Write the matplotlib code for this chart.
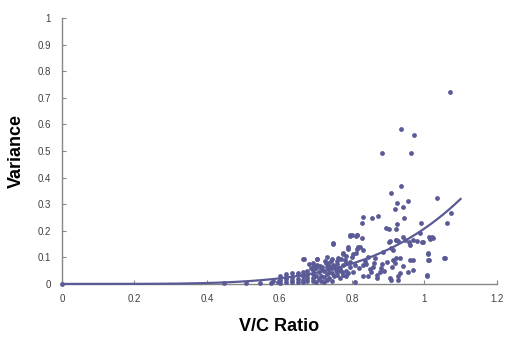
import matplotlib
matplotlib.use("Agg")
import matplotlib.pyplot as plt
import numpy as np

plt.rcParams['font.family'] = ['Liberation Sans', 'DejaVu Sans']

vc_ratio = [
    0.000, 0.447, 0.508, 0.546, 0.577, 0.582, 0.596,
    0.601, 0.601, 0.601, 0.618, 0.618, 0.618, 0.618,
    0.634, 0.634, 0.634, 0.634, 0.652, 0.652, 0.652, 0.652,
    0.666, 0.666, 0.666, 0.666, 0.677, 0.677, 0.677, 0.677,
    0.692, 0.692, 0.692, 0.692, 0.700, 0.700, 0.700, 0.708, 0.708,
    0.715, 0.715, 0.715, 0.722, 0.722, 0.722, 0.730, 0.730, 0.730,
    0.738, 0.738, 0.738, 0.745, 0.745, 0.745, 0.752, 0.752, 0.760,
    0.760, 0.768, 0.768, 0.775, 0.775, 0.783, 0.783, 0.790, 0.795,
    0.668, 0.692, 0.703, 0.749, 0.796, 0.813, 0.790, 0.818, 0.811,
    0.776, 0.732, 0.781, 0.666, 0.703, 0.682,
    0.794, 0.811, 0.829, 0.749, 0.905, 0.921, 0.822, 0.831, 0.813,
    0.790, 0.885, 0.914, 0.776, 0.804, 0.845, 0.762, 0.863, 0.896,
    0.923, 0.749, 0.794, 0.831, 0.859, 0.882, 0.910, 0.767, 0.804,
    0.854, 0.877, 0.758, 0.785, 0.831, 0.868, 0.905, 0.808, 0.928,
    0.909, 0.923, 0.941, 0.946, 0.969, 0.988, 0.997, 1.013, 1.023,
    1.015, 0.960, 0.914, 0.932, 0.960, 0.968, 1.011, 1.013, 1.054,
    0.941, 0.919, 0.969, 0.955, 0.932, 0.928, 1.006, 0.909,
    0.830, 0.828, 0.855, 0.872, 0.943, 0.924, 0.921, 0.990, 1.062,
    1.073, 0.800, 0.814, 0.902, 0.927, 0.957, 0.979, 0.993, 1.021,
    1.010, 1.010, 1.057, 1.007,
    1.070, 0.935, 0.971, 0.883, 0.963, 0.935, 0.908, 0.954, 0.924,
    1.034, 0.941, 0.919, 0.903, 0.895,
    0.820, 0.840, 0.850, 0.860, 0.870, 0.880, 0.890, 0.800, 0.810,
    0.835, 0.845, 0.760, 0.770, 0.785, 0.725, 0.735, 0.745, 0.712,
    0.705, 0.718, 0.728, 0.742, 0.755, 0.765, 0.772, 0.688, 0.695,
]
variance = [
    0.000, 0.002, 0.002, 0.003, 0.004, 0.012, 0.008,
    0.005, 0.016, 0.028, 0.006, 0.017, 0.027, 0.036,
    0.006, 0.016, 0.026, 0.040, 0.008, 0.020, 0.032, 0.042,
    0.006, 0.016, 0.030, 0.044, 0.010, 0.022, 0.034, 0.048,
    0.012, 0.024, 0.038, 0.052, 0.006, 0.030, 0.060, 0.018, 0.045,
    0.010, 0.030, 0.055, 0.008, 0.026, 0.050, 0.014, 0.036, 0.062,
    0.022, 0.046, 0.068, 0.012, 0.040, 0.058, 0.028, 0.064, 0.044,
    0.074, 0.024, 0.056, 0.032, 0.070, 0.050, 0.078, 0.040, 0.062,
    0.093, 0.078, 0.093, 0.153, 0.184, 0.184, 0.137, 0.137, 0.115,
    0.115, 0.103, 0.090, 0.093, 0.093, 0.074,
    0.182, 0.182, 0.172, 0.150, 0.162, 0.165, 0.137, 0.128, 0.132,
    0.132, 0.119, 0.128, 0.112, 0.112, 0.103, 0.097, 0.097, 0.084,
    0.097, 0.071, 0.084, 0.071, 0.065, 0.074, 0.065, 0.053, 0.046,
    0.046, 0.046, 0.034, 0.028, 0.028, 0.021, 0.021, 0.009, 0.015,
    0.134, 0.165, 0.178, 0.165, 0.165, 0.190, 0.159, 0.178, 0.174,
    0.169, 0.147, 0.090, 0.099, 0.090, 0.090, 0.113, 0.090, 0.097,
    0.069, 0.078, 0.053, 0.046, 0.040, 0.028, 0.031, 0.015,
    0.252, 0.229, 0.248, 0.256, 0.248, 0.226, 0.207, 0.229, 0.229,
    0.267, 0.184, 0.184, 0.158, 0.162, 0.158, 0.162, 0.158, 0.177,
    0.117, 0.090, 0.098, 0.034,
    0.722, 0.583, 0.560, 0.492, 0.492, 0.368, 0.342, 0.312, 0.305,
    0.323, 0.289, 0.282, 0.208, 0.211,
    0.060, 0.075, 0.055, 0.080, 0.035, 0.060, 0.050, 0.100, 0.070,
    0.088, 0.030, 0.085, 0.095, 0.105, 0.085, 0.078, 0.092, 0.068,
    0.070, 0.062, 0.080, 0.088, 0.052, 0.060, 0.045, 0.060, 0.068,
]

# Power trendline coefficients y = a * x ** b
trend_a = 0.208
trend_b = 4.5
trend_x_range = [0.0, 1.10]

x_ticks = [0, 0.2, 0.4, 0.6, 0.8, 1.0, 1.2]
x_tick_labels = ['0', '0.2', '0.4', '0.6', '0.8', '1', '1.2']
y_ticks = [0, 0.1, 0.2, 0.3, 0.4, 0.5, 0.6, 0.7, 0.8, 0.9, 1.0]
y_tick_labels = ['0', '0.1', '0.2', '0.3', '0.4', '0.5', '0.6', '0.7', '0.8', '0.9', '1']

color = '#5a5a96'

fig = plt.figure(figsize=(5.08, 3.38), dpi=100)
ax = fig.add_axes([0.122, 0.160, 0.856, 0.787])

ax.scatter(vc_ratio, variance, s=12, color=color, linewidths=0, zorder=3, clip_on=False)

tx = np.linspace(trend_x_range[0], trend_x_range[1], 200)
ax.plot(tx, trend_a * tx ** trend_b, color=color, lw=1.6, zorder=4, clip_on=False)

ax.set_xlim(0, 1.2)
ax.set_ylim(0, 1.0)
ax.set_xticks(x_ticks)
ax.set_xticklabels(x_tick_labels)
ax.set_yticks(y_ticks)
ax.set_yticklabels(y_tick_labels)

for s in ['top', 'right']:
    ax.spines[s].set_visible(False)
for s in ['left', 'bottom']:
    ax.spines[s].set_color('#868686')
    ax.spines[s].set_linewidth(1.0)

ax.tick_params(axis='both', direction='in', length=3, width=0.8, color='#868686',
               labelsize=7, labelcolor='#404040')
ax.tick_params(axis='x', pad=7)
ax.tick_params(axis='y', pad=8)

ax.set_xlabel('V/C Ratio', fontsize=13, fontweight='bold')
ax.set_ylabel('Variance', fontsize=13, fontweight='bold')
ax.xaxis.set_label_coords(0.5, -0.128)
ax.yaxis.set_label_coords(-0.085, 0.5)

fig.savefig('out.png', dpi=100)
